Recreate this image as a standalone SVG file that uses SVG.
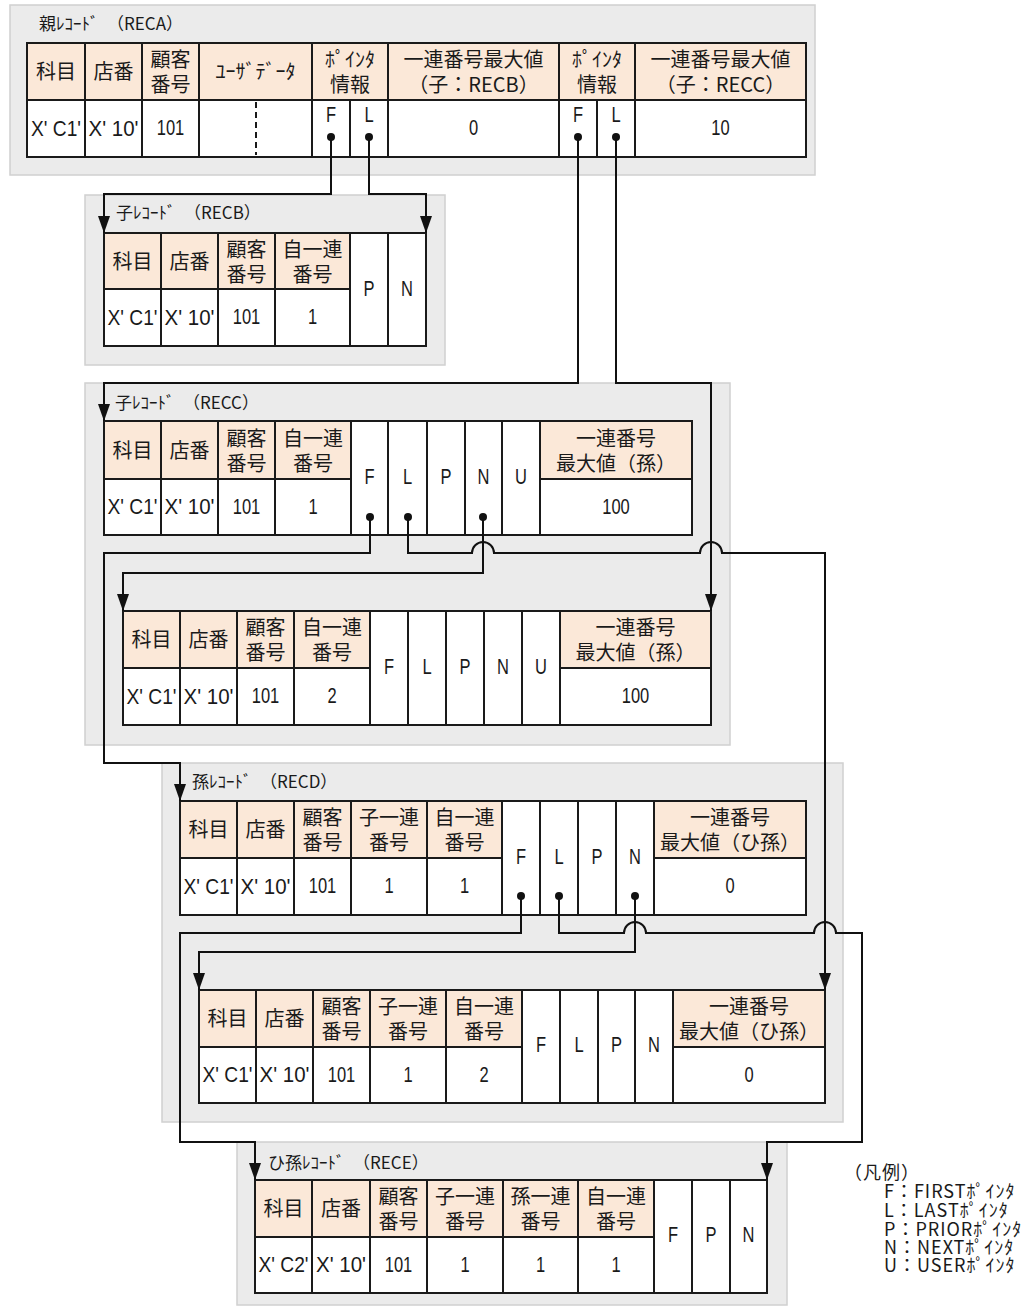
<svg xmlns="http://www.w3.org/2000/svg" width="1026" height="1311" viewBox="0 0 1026 1311">
<defs>
<style>
.pnl{fill:#EBEBEB;stroke:#D0D0D0;stroke-width:1.5}
.h{fill:#FBE8D8;stroke:#1A1A1A;stroke-width:2}
.c{fill:#FFFFFF;stroke:#1A1A1A;stroke-width:2}
.j{font-family:"Noto Sans CJK JP","Noto Sans CJK SC",sans-serif;font-size:20px;fill:#1A1A1A;text-anchor:middle}
.t{font-family:"Noto Sans CJK JP","Noto Sans CJK SC",sans-serif;font-size:17px;fill:#1A1A1A}
.lg{font-family:"Noto Sans CJK JP","Noto Sans CJK SC",sans-serif;font-size:18px;fill:#1A1A1A;letter-spacing:1px}
.l{font-family:"Liberation Sans",Arial,sans-serif;font-size:22px;fill:#1A1A1A;text-anchor:middle;transform-box:fill-box;transform-origin:center;transform:scaleX(0.75)}
.x{font-family:"Liberation Sans",Arial,sans-serif;font-size:22px;fill:#1A1A1A;text-anchor:middle}
.cn{fill:none;stroke:#111111;stroke-width:2}
.dot{fill:#111111}
.dash{stroke:#1A1A1A;stroke-width:2;stroke-dasharray:6 4}
</style>
<marker id="ah" markerWidth="17" markerHeight="12" refX="17" refY="6" orient="auto" markerUnits="userSpaceOnUse"><path d="M0,0 L17,6 L0,12 Z" fill="#111111"/></marker>
</defs>

<g id="reca">
<rect class="pnl" x="10" y="5" width="805" height="170"/>
<text class="t" x="39" y="30">親ﾚｺｰﾄﾞ　（RECA）</text>
<rect class="h" x="27" y="43" width="58" height="57"/>
<rect class="h" x="85" y="43" width="57" height="57"/>
<rect class="h" x="142" y="43" width="57" height="57"/>
<rect class="h" x="199" y="43" width="113" height="57"/>
<rect class="h" x="312" y="43" width="76" height="57"/>
<rect class="h" x="388" y="43" width="171" height="57"/>
<rect class="h" x="559" y="43" width="76" height="57"/>
<rect class="h" x="635" y="43" width="171" height="57"/>
<rect class="c" x="27" y="100" width="58" height="57"/>
<rect class="c" x="85" y="100" width="57" height="57"/>
<rect class="c" x="142" y="100" width="57" height="57"/>
<rect class="c" x="199" y="100" width="113" height="57"/>
<rect class="c" x="312" y="100" width="38" height="57"/>
<rect class="c" x="350" y="100" width="38" height="57"/>
<rect class="c" x="388" y="100" width="171" height="57"/>
<rect class="c" x="559" y="100" width="38" height="57"/>
<rect class="c" x="597" y="100" width="38" height="57"/>
<rect class="c" x="635" y="100" width="171" height="57"/>
<line class="dash" x1="256" y1="102" x2="256" y2="155"/>
<text class="j" x="56" y="79">科目</text>
<text class="j" x="113.5" y="79">店番</text>
<text class="j" x="170.5" y="67">顧客<tspan x="170.5" dy="25">番号</tspan></text>
<text class="j" x="255.5" y="79">ﾕｰｻﾞﾃﾞｰﾀ</text>
<text class="j" x="350" y="67">ﾎﾟｲﾝﾀ<tspan x="350" dy="25">情報</tspan></text>
<text class="j" x="473.5" y="67">一連番号最大値<tspan x="473.5" dy="25">（子：RECB）</tspan></text>
<text class="j" x="597" y="67">ﾎﾟｲﾝﾀ<tspan x="597" dy="25">情報</tspan></text>
<text class="j" x="720.5" y="67">一連番号最大値<tspan x="720.5" dy="25">（子：RECC）</tspan></text>
<text class="x" x="56" y="135.5" textLength="50" lengthAdjust="spacingAndGlyphs">X' C1'</text>
<text class="x" x="113.5" y="135.5" textLength="50" lengthAdjust="spacingAndGlyphs">X' 10'</text>
<text class="l" x="170.5" y="135.5">101</text>
<text class="l" x="331" y="122">F</text>
<text class="l" x="369" y="122">L</text>
<text class="l" x="473.5" y="135.5">0</text>
<text class="l" x="578" y="122">F</text>
<text class="l" x="616" y="122">L</text>
<text class="l" x="720.5" y="135.5">10</text>
</g>

<g id="recb">
<rect class="pnl" x="85" y="195" width="360" height="170"/>
<text class="t" x="116" y="219">子ﾚｺｰﾄﾞ　（RECB）</text>
<rect class="h" x="104" y="233" width="57" height="56"/>
<rect class="h" x="161" y="233" width="57" height="56"/>
<rect class="h" x="218" y="233" width="57" height="56"/>
<rect class="h" x="275" y="233" width="75" height="56"/>
<rect class="c" x="104" y="289" width="57" height="57"/>
<rect class="c" x="161" y="289" width="57" height="57"/>
<rect class="c" x="218" y="289" width="57" height="57"/>
<rect class="c" x="275" y="289" width="75" height="57"/>
<rect class="c" x="350" y="233" width="38" height="113"/>
<rect class="c" x="388" y="233" width="38" height="113"/>
<text class="j" x="132.5" y="268.5">科目</text>
<text class="j" x="189.5" y="268.5">店番</text>
<text class="j" x="246.5" y="256.5">顧客<tspan x="246.5" dy="25">番号</tspan></text>
<text class="j" x="312.5" y="256.5">自一連<tspan x="312.5" dy="25">番号</tspan></text>
<text class="x" x="132.5" y="324.5" textLength="50" lengthAdjust="spacingAndGlyphs">X' C1'</text>
<text class="x" x="189.5" y="324.5" textLength="50" lengthAdjust="spacingAndGlyphs">X' 10'</text>
<text class="l" x="246.5" y="324.5">101</text>
<text class="l" x="312.5" y="324.5">1</text>
<text class="l" x="369" y="296">P</text>
<text class="l" x="407" y="296">N</text>
</g>

<g id="recc">
<rect class="pnl" x="85" y="383" width="645" height="362"/>
<text class="t" x="115" y="409">子ﾚｺｰﾄﾞ　（RECC）</text>
<rect class="h" x="104" y="421" width="57" height="58"/>
<rect class="h" x="161" y="421" width="57" height="58"/>
<rect class="h" x="218" y="421" width="57" height="58"/>
<rect class="h" x="275" y="421" width="76" height="58"/>
<rect class="h" x="540" y="421" width="152" height="58"/>
<rect class="c" x="104" y="479" width="57" height="56"/>
<rect class="c" x="161" y="479" width="57" height="56"/>
<rect class="c" x="218" y="479" width="57" height="56"/>
<rect class="c" x="275" y="479" width="76" height="56"/>
<rect class="c" x="540" y="479" width="152" height="56"/>
<rect class="c" x="351" y="421" width="37" height="114"/>
<rect class="c" x="388" y="421" width="39" height="114"/>
<rect class="c" x="427" y="421" width="38" height="114"/>
<rect class="c" x="465" y="421" width="37" height="114"/>
<rect class="c" x="502" y="421" width="38" height="114"/>
<text class="j" x="132.5" y="457.5">科目</text>
<text class="j" x="189.5" y="457.5">店番</text>
<text class="j" x="246.5" y="445.5">顧客<tspan x="246.5" dy="25">番号</tspan></text>
<text class="j" x="313" y="445.5">自一連<tspan x="313" dy="25">番号</tspan></text>
<text class="j" x="616" y="445.5">一連番号<tspan x="616" dy="25">最大値（孫）</tspan></text>
<text class="x" x="132.5" y="514" textLength="50" lengthAdjust="spacingAndGlyphs">X' C1'</text>
<text class="x" x="189.5" y="514" textLength="50" lengthAdjust="spacingAndGlyphs">X' 10'</text>
<text class="l" x="246.5" y="514">101</text>
<text class="l" x="313" y="514">1</text>
<text class="l" x="616" y="514">100</text>
<text class="l" x="369.5" y="484">F</text>
<text class="l" x="407.5" y="484">L</text>
<text class="l" x="446" y="484">P</text>
<text class="l" x="483.5" y="484">N</text>
<text class="l" x="521" y="484">U</text>

<rect class="h" x="123" y="611" width="57" height="57"/>
<rect class="h" x="180" y="611" width="57" height="57"/>
<rect class="h" x="237" y="611" width="57" height="57"/>
<rect class="h" x="294" y="611" width="76" height="57"/>
<rect class="h" x="560" y="611" width="151" height="57"/>
<rect class="c" x="123" y="668" width="57" height="57"/>
<rect class="c" x="180" y="668" width="57" height="57"/>
<rect class="c" x="237" y="668" width="57" height="57"/>
<rect class="c" x="294" y="668" width="76" height="57"/>
<rect class="c" x="560" y="668" width="151" height="57"/>
<rect class="c" x="370" y="611" width="38" height="114"/>
<rect class="c" x="408" y="611" width="38" height="114"/>
<rect class="c" x="446" y="611" width="38" height="114"/>
<rect class="c" x="484" y="611" width="38" height="114"/>
<rect class="c" x="522" y="611" width="38" height="114"/>
<text class="j" x="151.5" y="647">科目</text>
<text class="j" x="208.5" y="647">店番</text>
<text class="j" x="265.5" y="635">顧客<tspan x="265.5" dy="25">番号</tspan></text>
<text class="j" x="332" y="635">自一連<tspan x="332" dy="25">番号</tspan></text>
<text class="j" x="635.5" y="635">一連番号<tspan x="635.5" dy="25">最大値（孫）</tspan></text>
<text class="x" x="151.5" y="703.5" textLength="50" lengthAdjust="spacingAndGlyphs">X' C1'</text>
<text class="x" x="208.5" y="703.5" textLength="50" lengthAdjust="spacingAndGlyphs">X' 10'</text>
<text class="l" x="265.5" y="703.5">101</text>
<text class="l" x="332" y="703.5">2</text>
<text class="l" x="635.5" y="703.5">100</text>
<text class="l" x="389" y="674">F</text>
<text class="l" x="427" y="674">L</text>
<text class="l" x="465" y="674">P</text>
<text class="l" x="503" y="674">N</text>
<text class="l" x="541" y="674">U</text>
</g>

<g id="recd">
<rect class="pnl" x="162" y="763" width="681" height="359"/>
<text class="t" x="192" y="788">孫ﾚｺｰﾄﾞ　（RECD）</text>
<rect class="h" x="180" y="801" width="57" height="57"/>
<rect class="h" x="237" y="801" width="57" height="57"/>
<rect class="h" x="294" y="801" width="57" height="57"/>
<rect class="h" x="351" y="801" width="76" height="57"/>
<rect class="h" x="427" y="801" width="75" height="57"/>
<rect class="h" x="654" y="801" width="152" height="57"/>
<rect class="c" x="180" y="858" width="57" height="57"/>
<rect class="c" x="237" y="858" width="57" height="57"/>
<rect class="c" x="294" y="858" width="57" height="57"/>
<rect class="c" x="351" y="858" width="76" height="57"/>
<rect class="c" x="427" y="858" width="75" height="57"/>
<rect class="c" x="654" y="858" width="152" height="57"/>
<rect class="c" x="502" y="801" width="38" height="114"/>
<rect class="c" x="540" y="801" width="38" height="114"/>
<rect class="c" x="578" y="801" width="38" height="114"/>
<rect class="c" x="616" y="801" width="38" height="114"/>
<text class="j" x="208.5" y="837">科目</text>
<text class="j" x="265.5" y="837">店番</text>
<text class="j" x="322.5" y="825">顧客<tspan x="322.5" dy="25">番号</tspan></text>
<text class="j" x="389" y="825">子一連<tspan x="389" dy="25">番号</tspan></text>
<text class="j" x="464.5" y="825">自一連<tspan x="464.5" dy="25">番号</tspan></text>
<text class="j" x="730" y="825">一連番号<tspan x="730" dy="25">最大値（ひ孫）</tspan></text>
<text class="x" x="208.5" y="893.5" textLength="50" lengthAdjust="spacingAndGlyphs">X' C1'</text>
<text class="x" x="265.5" y="893.5" textLength="50" lengthAdjust="spacingAndGlyphs">X' 10'</text>
<text class="l" x="322.5" y="893.5">101</text>
<text class="l" x="389" y="893.5">1</text>
<text class="l" x="464.5" y="893.5">1</text>
<text class="l" x="730" y="893.5">0</text>
<text class="l" x="521" y="864">F</text>
<text class="l" x="559" y="864">L</text>
<text class="l" x="597" y="864">P</text>
<text class="l" x="635" y="864">N</text>

<rect class="h" x="199" y="990" width="57" height="57"/>
<rect class="h" x="256" y="990" width="57" height="57"/>
<rect class="h" x="313" y="990" width="57" height="57"/>
<rect class="h" x="370" y="990" width="76" height="57"/>
<rect class="h" x="446" y="990" width="76" height="57"/>
<rect class="h" x="673" y="990" width="152" height="57"/>
<rect class="c" x="199" y="1047" width="57" height="56"/>
<rect class="c" x="256" y="1047" width="57" height="56"/>
<rect class="c" x="313" y="1047" width="57" height="56"/>
<rect class="c" x="370" y="1047" width="76" height="56"/>
<rect class="c" x="446" y="1047" width="76" height="56"/>
<rect class="c" x="673" y="1047" width="152" height="56"/>
<rect class="c" x="522" y="990" width="38" height="113"/>
<rect class="c" x="560" y="990" width="38" height="113"/>
<rect class="c" x="598" y="990" width="37" height="113"/>
<rect class="c" x="635" y="990" width="38" height="113"/>
<text class="j" x="227.5" y="1026">科目</text>
<text class="j" x="284.5" y="1026">店番</text>
<text class="j" x="341.5" y="1014">顧客<tspan x="341.5" dy="25">番号</tspan></text>
<text class="j" x="408" y="1014">子一連<tspan x="408" dy="25">番号</tspan></text>
<text class="j" x="484" y="1014">自一連<tspan x="484" dy="25">番号</tspan></text>
<text class="j" x="749" y="1014">一連番号<tspan x="749" dy="25">最大値（ひ孫）</tspan></text>
<text class="x" x="227.5" y="1082" textLength="50" lengthAdjust="spacingAndGlyphs">X' C1'</text>
<text class="x" x="284.5" y="1082" textLength="50" lengthAdjust="spacingAndGlyphs">X' 10'</text>
<text class="l" x="341.5" y="1082">101</text>
<text class="l" x="408" y="1082">1</text>
<text class="l" x="484" y="1082">2</text>
<text class="l" x="749" y="1082">0</text>
<text class="l" x="541" y="1052.5">F</text>
<text class="l" x="579" y="1052.5">L</text>
<text class="l" x="616.5" y="1052.5">P</text>
<text class="l" x="654" y="1052.5">N</text>
</g>

<g id="rece">
<rect class="pnl" x="237" y="1142" width="550" height="163"/>
<text class="t" x="268" y="1169">ひ孫ﾚｺｰﾄﾞ　（RECE）</text>
<rect class="h" x="255" y="1180" width="57" height="57"/>
<rect class="h" x="312" y="1180" width="58" height="57"/>
<rect class="h" x="370" y="1180" width="57" height="57"/>
<rect class="h" x="427" y="1180" width="76" height="57"/>
<rect class="h" x="503" y="1180" width="75" height="57"/>
<rect class="h" x="578" y="1180" width="76" height="57"/>
<rect class="c" x="255" y="1237" width="57" height="56"/>
<rect class="c" x="312" y="1237" width="58" height="56"/>
<rect class="c" x="370" y="1237" width="57" height="56"/>
<rect class="c" x="427" y="1237" width="76" height="56"/>
<rect class="c" x="503" y="1237" width="75" height="56"/>
<rect class="c" x="578" y="1237" width="76" height="56"/>
<rect class="c" x="654" y="1180" width="38" height="113"/>
<rect class="c" x="692" y="1180" width="38" height="113"/>
<rect class="c" x="730" y="1180" width="37" height="113"/>
<text class="j" x="283.5" y="1216">科目</text>
<text class="j" x="341" y="1216">店番</text>
<text class="j" x="398.5" y="1204">顧客<tspan x="398.5" dy="25">番号</tspan></text>
<text class="j" x="465" y="1204">子一連<tspan x="465" dy="25">番号</tspan></text>
<text class="j" x="540.5" y="1204">孫一連<tspan x="540.5" dy="25">番号</tspan></text>
<text class="j" x="616" y="1204">自一連<tspan x="616" dy="25">番号</tspan></text>
<text class="x" x="283.5" y="1272" textLength="50" lengthAdjust="spacingAndGlyphs">X' C2'</text>
<text class="x" x="341" y="1272" textLength="50" lengthAdjust="spacingAndGlyphs">X' 10'</text>
<text class="l" x="398.5" y="1272">101</text>
<text class="l" x="465" y="1272">1</text>
<text class="l" x="540.5" y="1272">1</text>
<text class="l" x="616" y="1272">1</text>
<text class="l" x="673" y="1242.5">F</text>
<text class="l" x="711" y="1242.5">P</text>
<text class="l" x="748.5" y="1242.5">N</text>
</g>

<g id="legend">
<text class="lg"><tspan x="844" y="1179">（凡例）</tspan><tspan x="884" y="1198">F：FIRSTﾎﾟｲﾝﾀ</tspan><tspan x="884" y="1217">L：LASTﾎﾟｲﾝﾀ</tspan><tspan x="884" y="1236">P：PRIORﾎﾟｲﾝﾀ</tspan><tspan x="884" y="1254">N：NEXTﾎﾟｲﾝﾀ</tspan><tspan x="884" y="1272">U：USERﾎﾟｲﾝﾀ</tspan></text>
</g>

<g id="connectors">
<path class="cn" d="M331,137 V194 H104 V233" marker-end="url(#ah)"/>
<path class="cn" d="M369,137 V194 H426 V233" marker-end="url(#ah)"/>
<path class="cn" d="M578,137 V383 H104 V421" marker-end="url(#ah)"/>
<path class="cn" d="M616,137 V383 H711 V611" marker-end="url(#ah)"/>
<path class="cn" d="M370,517 V553 H104 V763 H180 V801" marker-end="url(#ah)"/>
<path class="cn" d="M408,517 V553 H472 A11,11 0 0 1 494,553 H700 A11,11 0 0 1 722,553 H825 V990" marker-end="url(#ah)"/>
<path class="cn" d="M483,517 V573 H123 V611" marker-end="url(#ah)"/>
<path class="cn" d="M521,896 V933 H180 V1142 H255 V1180" marker-end="url(#ah)"/>
<path class="cn" d="M559,896 V933 H624 A11,11 0 0 1 646,933 H814 A11,11 0 0 1 836,933 H862 V1142 H767 V1180" marker-end="url(#ah)"/>
<path class="cn" d="M635,896 V952 H199 V990" marker-end="url(#ah)"/>
<circle class="dot" cx="331" cy="137" r="4"/>
<circle class="dot" cx="369" cy="137" r="4"/>
<circle class="dot" cx="578" cy="137" r="4"/>
<circle class="dot" cx="616" cy="137" r="4"/>
<circle class="dot" cx="370" cy="517" r="4"/>
<circle class="dot" cx="408" cy="517" r="4"/>
<circle class="dot" cx="483" cy="517" r="4"/>
<circle class="dot" cx="521" cy="896" r="4"/>
<circle class="dot" cx="559" cy="896" r="4"/>
<circle class="dot" cx="635" cy="896" r="4"/>
</g>
</svg>
